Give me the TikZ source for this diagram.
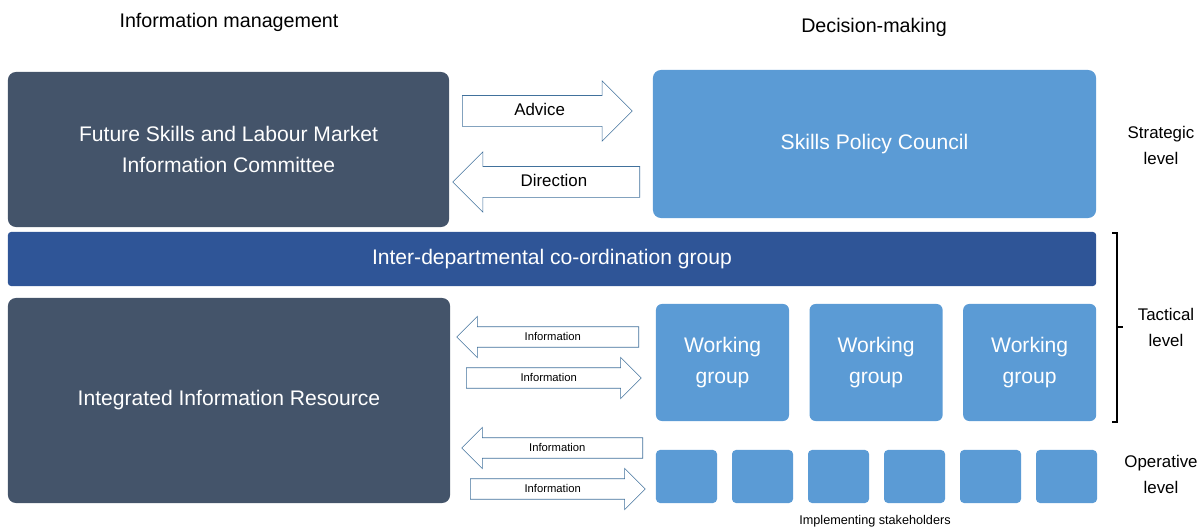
\documentclass[tikz,border=0pt]{standalone}
\usepackage{fontspec}
\setmainfont{Liberation Sans}
\usetikzlibrary{shapes.arrows, positioning}
\definecolor{slate}{HTML}{44546A}
\definecolor{skyblue}{HTML}{5B9BD5}
\definecolor{navyblue}{HTML}{2F5597}
\definecolor{arrowline}{HTML}{41719C}

\begin{document}
\begin{tikzpicture}[
        x=0.025cm, y=-0.025cm,
        infobox/.style={rectangle, fill=slate, rounded corners=0.2cm, text=white, align=center, font=\fontsize{15}{22}\selectfont},
        policybox/.style={rectangle, fill=skyblue, rounded corners=0.2cm, text=white, align=center, font=\fontsize{15}{22}\selectfont},
        stakebox/.style={rectangle, fill=skyblue, rounded corners=0.1cm, minimum width=1.525cm, minimum height=1.325cm},
        flow/.style={single arrow, draw=arrowline, fill=white, single arrow head extend=0.2625cm, text height=6pt, text depth=1.7pt, inner ysep=3.25pt, font=\fontsize{8}{9}\selectfont},
        bigflow/.style={flow, single arrow head extend=0.37cm, text height=9pt, text depth=2pt, inner ysep=5.3pt, font=\fontsize{12}{14}\selectfont},
        level/.style={align=center, font=\fontsize{12}{18.5}\selectfont}
    ]
        \useasboundingbox (0,0) rectangle (1204,531);

        % column heads
        \node[font=\fontsize{14}{16}\selectfont] (infohead) at (229,22) {Information management};
        \node[font=\fontsize{14}{16}\selectfont] (dechead) at (874,27) {Decision-making};

        % strategic level
        \node[infobox, minimum width=11.025cm, minimum height=3.875cm] (committee) at (228.5,149.5) {Future Skills and Labour Market\\Information Committee};
        \node[policybox, minimum width=11.075cm, minimum height=3.7cm] (council) at (874.5,144) {Skills Policy Council};
        \node[bigflow, minimum height=4.25cm, anchor=tail] (advice) at (462,111) {Advice};
        \node[bigflow, minimum height=4.675cm, shape border rotate=180, anchor=tail] (direction) at (640,182) {Direction};

        % co-ordination bar
        \node[rectangle, fill=navyblue, rounded corners=0.08cm, text=white, font=\fontsize{15}{22}\selectfont,
              minimum width=27.2cm, minimum height=1.35cm] (coord) at (552,259) {Inter-departmental co-ordination group};

        % tactical and operative level
        \node[infobox, minimum width=11.05cm, minimum height=5.125cm] (resource) at (229,400.5) {Integrated Information Resource};
        \node[policybox, rounded corners=0.15cm, minimum width=3.325cm, minimum height=2.925cm] (wg1) at (722.5,362.5) {Working\\group};
        \node[policybox, rounded corners=0.15cm, minimum width=3.325cm, minimum height=2.925cm, right=0.5cm of wg1] (wg2) {Working\\group};
        \node[policybox, rounded corners=0.15cm, minimum width=3.325cm, minimum height=2.925cm, right=0.5cm of wg2] (wg3) {Working\\group};
        \foreach \i in {1,...,6}
            \node[stakebox] (stake\i) at (610.5+76*\i,476.5) {};

        \node[flow, minimum height=4.55cm, shape border rotate=180, anchor=tail] (info1) at (639,337) {Information};
        \node[flow, minimum height=4.375cm, anchor=tail] (info2) at (466,378) {Information};
        \node[flow, minimum height=4.525cm, shape border rotate=180, anchor=tail] (info3) at (643,448) {Information};
        \node[flow, minimum height=4.375cm, anchor=tail] (info4) at (470,489) {Information};

        \node[font=\fontsize{9}{11}\selectfont] (stakeholders) at (875,521) {Implementing stakeholders};

        % levels
        \node[level] (strategic) at (1161,145) {Strategic\\level};
        \draw[line width=0.8pt] (1112,233) -- (1117,233) -- (1117,422) -- (1112,422);
        \draw[line width=0.8pt] (1117,327) -- (1123,327);
        \node[level] (tactical) at (1166,327) {Tactical\\level};
        \node[level] (operative) at (1161,474) {Operative\\level};
    \end{tikzpicture}
\end{document}
